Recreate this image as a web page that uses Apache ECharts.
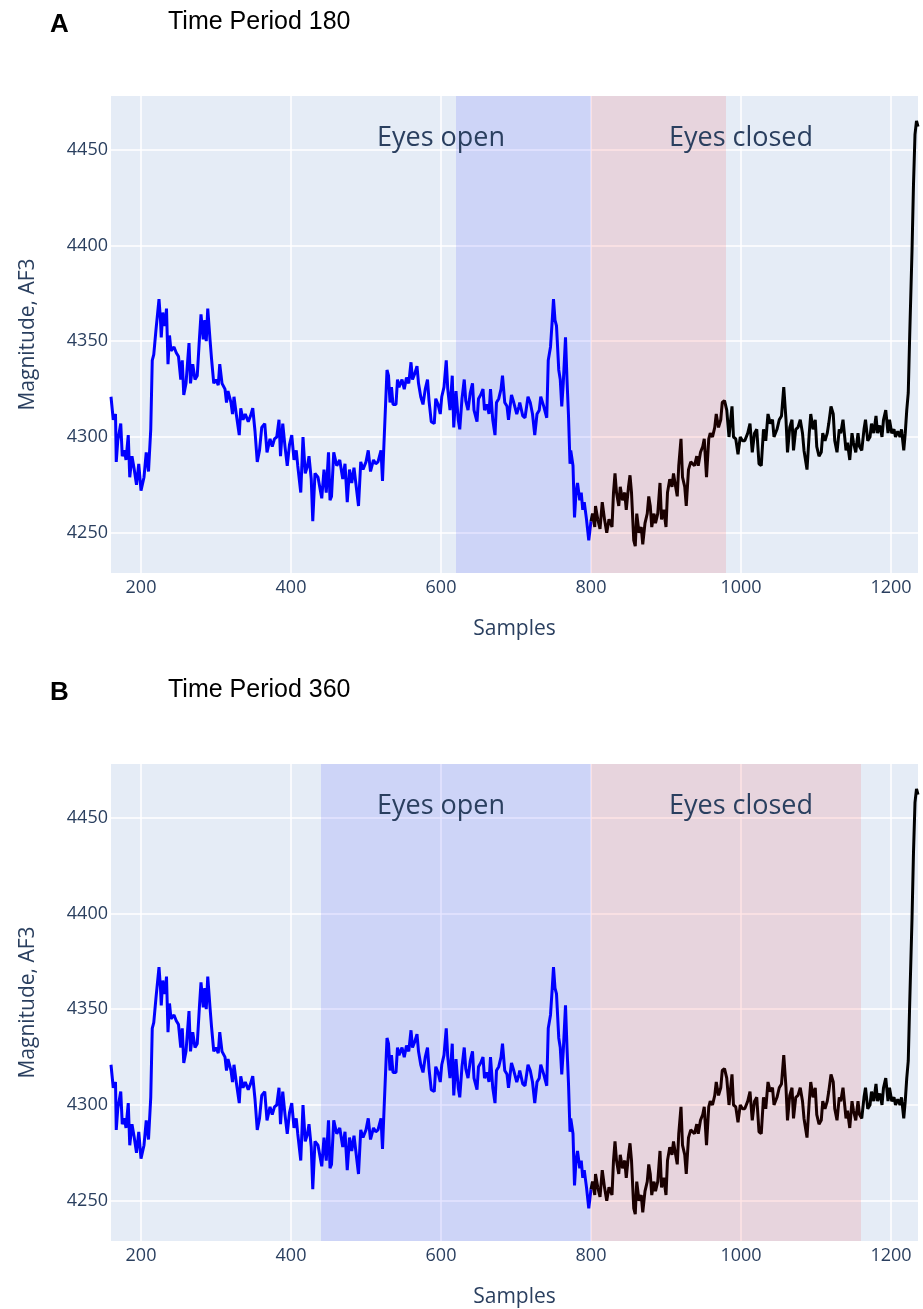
<!DOCTYPE html>
<html>
<head>
<meta charset="utf-8">
<script src="https://cdn.jsdelivr.net/npm/echarts@6/dist/echarts.min.js"></script>
<style>
  html, body { margin: 0; padding: 0; background: #ffffff; }
  #chart { width: 923px; height: 1309px; }
</style>
</head>
<body>
<div id="chart"></div>
<script>
// ---------- DATA ----------
const samples = [
  160,163,166,167,169,173,175,178,180,183,185,188,191,194,197,200,204,207,210,213,
  215,217,220,224,226,227,229,232,234,236,238,240,244,247,250,253,255,257,260,264,
  266,269,272,275,278,280,283,285,287,289,292,294,297,300,303,305,308,312,314,316,
  320,322,324,327,331,333,336,339,343,346,349,352,355,358,361,365,368,372,375,378,
  381,384,386,389,392,395,398,401,404,407,409,413,416,419,422,424,427,429,432,436,
  438,441,444,447,450,452,454,457,461,465,469,472,475,478,481,484,487,490,493,496,
  500,503,506,510,513,516,520,522,524,526,528,530,532,534,536,540,542,544,548,551,
  554,557,560,562,565,568,570,573,576,579,582,584,587,591,593,596,599,601,604,607,
  609,612,615,617,620,623,625,628,631,633,636,639,642,644,648,650,653,656,658,661,
  664,666,669,672,674,677,680,682,685,688,690,694,697,701,704,705,709,712,716,719,
  722,725,728,731,733,737,739,741,743,746,748,750,752,754,757,759,761,763,766,768,
  770,772,773,776,778,780,782,785,787,789,791,794,797,800,802,805,806,809,812,815,
  818,821,824,828,830,832,834,837,839,842,845,847,850,852,854,857,859,861,864,867,
  869,872,875,877,879,881,884,886,889,892,894,897,900,902,905,908,910,912,915,917,
  920,922,925,927,930,933,935,938,941,943,946,949,951,954,957,959,962,965,967,970,
  973,975,978,981,984,988,990,993,996,999,1002,1005,1009,1012,1015,1018,1021,1024,1027,1030,
  1033,1036,1039,1042,1044,1048,1051,1054,1057,1060,1062,1065,1068,1070,1073,1076,1079,1082,1084,1088,
  1091,1093,1096,1099,1101,1104,1107,1109,1112,1115,1117,1120,1123,1125,1128,1131,1133,1136,1140,1142,
  1145,1148,1150,1153,1156,1158,1161,1164,1166,1169,1172,1174,1177,1180,1182,1185,1188,1190,1193,1196,
  1198,1201,1204,1206,1209,1212,1214,1217,1219,1221,1223,1225,1228,1230,1232,1234,1236
];
const magnitude = [
  4321,4309,4312,4287,4298,4307,4290,4293,4288,4301,4279,4290,4283,4275,4286,4272,4279,4292,4282,4304,
  4340,4343,4356,4372,4361,4352,4365,4358,4367,4338,4353,4345,4347,4344,4342,4330,4340,4322,4328,4349,
  4328,4338,4330,4332,4352,4364,4351,4361,4350,4367,4351,4341,4328,4330,4327,4338,4328,4325,4318,4324,
  4318,4312,4321,4312,4301,4315,4309,4312,4308,4311,4315,4303,4287,4293,4305,4307,4292,4299,4295,4299,
  4300,4309,4290,4307,4295,4285,4296,4301,4288,4293,4285,4271,4300,4281,4285,4290,4278,4256,4281,4279,
  4278,4268,4283,4271,4292,4267,4269,4292,4285,4288,4278,4286,4266,4283,4276,4284,4274,4264,4287,4283,
  4287,4293,4282,4288,4286,4287,4293,4277,4297,4316,4335,4332,4318,4326,4317,4317,4330,4326,4330,4325,
  4331,4328,4339,4330,4333,4337,4328,4321,4317,4325,4330,4319,4308,4307,4320,4317,4312,4321,4326,4340,
  4325,4314,4332,4305,4324,4309,4304,4320,4330,4319,4314,4323,4328,4314,4308,4320,4322,4325,4314,4317,
  4312,4325,4309,4301,4318,4320,4325,4332,4318,4316,4309,4322,4318,4312,4316,4318,4311,4310,4321,4318,
  4312,4301,4312,4314,4321,4316,4317,4310,4340,4347,4359,4372,4361,4358,4335,4330,4316,4328,4352,4330,
  4311,4286,4293,4285,4258,4271,4276,4267,4271,4262,4266,4257,4246,4256,4260,4253,4264,4257,4252,4266,
  4257,4250,4257,4253,4271,4281,4271,4264,4274,4267,4271,4262,4274,4280,4271,4246,4243,4260,4250,4253,
  4244,4255,4260,4269,4264,4253,4260,4255,4260,4276,4257,4262,4253,4271,4278,4274,4281,4276,4269,4285,
  4299,4279,4274,4264,4283,4287,4286,4285,4290,4285,4292,4295,4299,4279,4299,4302,4300,4305,4312,4305,
  4309,4318,4319,4314,4300,4316,4300,4299,4291,4300,4298,4298,4302,4307,4292,4302,4304,4286,4285,4304,
  4298,4312,4307,4309,4300,4304,4309,4311,4326,4309,4292,4305,4309,4293,4304,4305,4309,4302,4293,4283,
  4302,4312,4304,4309,4295,4290,4292,4302,4298,4302,4307,4316,4312,4298,4292,4304,4302,4309,4293,4297,
  4288,4302,4297,4292,4302,4295,4293,4304,4309,4298,4300,4307,4302,4311,4302,4306,4300,4309,4314,4302,
  4309,4302,4304,4300,4303,4300,4304,4293,4302,4314,4323,4354,4397,4432,4458,4465,4462
];
const eyesSplit = 800;                 // sample where eyes close
const timePeriods = [180, 360];        // panel A, panel B
const panelLetters = ['A', 'B'];
const regionLabels = ['Eyes open', 'Eyes closed'];

// ---------- BUILD ----------
const points = samples.map((s, i) => [s, magnitude[i]]);
const openPart = points.filter(p => p[0] <= eyesSplit);
const closedPart = points.filter(p => p[0] >= eyesSplit);

const FONT = "'Open Sans', 'Noto Sans', sans-serif";
const TXT = '#2a3f5f';
const panelTop = [96, 764];
const plotH = 477;

const grids = [], xAxes = [], yAxes = [], series = [], titles = [];

panelTop.forEach((top, k) => {
  grids.push({ left: 111, top: top, width: 807, height: plotH, show: true,
               backgroundColor: '#E5ECF6', borderWidth: 0, containLabel: false });
  xAxes.push({
    gridIndex: k, type: 'value', min: 160, max: 1236,
    minInterval: 200, maxInterval: 200,
    name: 'Samples', nameLocation: 'middle', nameGap: 46,
    nameTextStyle: { fontFamily: FONT, fontSize: 21, color: TXT },
    axisLine: { show: false }, axisTick: { show: false },
    axisLabel: { fontFamily: FONT, fontSize: 18, color: TXT, margin: 6,
                 showMinLabel: false, showMaxLabel: false,
                 formatter: v => (v % 200 === 0 ? String(v) : '') },
    splitLine: { show: true, showMinLine: false, showMaxLine: false,
                 lineStyle: { color: '#ffffff', width: 1.5 } }
  });
  yAxes.push({
    gridIndex: k, type: 'value', min: 4229, max: 4478,
    minInterval: 50, maxInterval: 50,
    name: 'Magnitude, AF3', nameLocation: 'middle', nameGap: 72,
    nameTextStyle: { fontFamily: FONT, fontSize: 21, color: TXT },
    axisLine: { show: false }, axisTick: { show: false },
    axisLabel: { fontFamily: FONT, fontSize: 18, color: TXT, margin: 3,
                 showMinLabel: false, showMaxLabel: false,
                 formatter: v => (v % 50 === 0 ? String(v) : '') },
    splitLine: { show: true, showMinLine: false, showMaxLine: false,
                 lineStyle: { color: '#ffffff', width: 1.5 } }
  });

  const period = timePeriods[k];
  series.push({
    type: 'line', xAxisIndex: k, yAxisIndex: k, data: openPart,
    showSymbol: false, symbol: 'none', z: 2,
    lineStyle: { color: '#0000ff', width: 3 }, silent: true
  });
  series.push({
    type: 'line', xAxisIndex: k, yAxisIndex: k, data: closedPart,
    showSymbol: false, symbol: 'none', z: 2,
    lineStyle: { color: '#000000', width: 3 }, silent: true
  });
  // translucent shaded periods drawn above the trace
  series.push({
    type: 'line', xAxisIndex: k, yAxisIndex: k, data: [[eyesSplit, null]],
    showSymbol: false, symbol: 'none', z: 10, silent: true,
    markArea: {
      silent: true, z: 10,
      data: [
        [{ xAxis: eyesSplit - period, itemStyle: { color: 'rgba(0,0,255,0.1)' } }, { xAxis: eyesSplit }],
        [{ xAxis: eyesSplit, itemStyle: { color: 'rgba(255,0,0,0.1)' } }, { xAxis: eyesSplit + period }]
      ]
    }
  });
  // region annotations
  series.push({
    type: 'scatter', xAxisIndex: k, yAxisIndex: k, z: 20, silent: true,
    symbolSize: 0, itemStyle: { opacity: 1 },
    data: [[600, 4456], [1000, 4456]],
    label: { show: true, position: 'inside', opacity: 1,
             formatter: p => regionLabels[p.dataIndex],
             fontFamily: FONT, fontSize: 27, color: TXT }
  });

  titles.push({ text: panelLetters[k], left: 50, top: 12 + 668 * k, padding: 0,
                textStyle: { fontFamily: "'Liberation Sans', Arial, sans-serif", fontWeight: 'bold', fontSize: 26, color: '#000' } });
  titles.push({ text: 'Time Period ' + period, left: 168, top: 10 + 668 * k, padding: 0,
                textStyle: { fontFamily: "'Liberation Sans', Arial, sans-serif", fontWeight: 'normal', fontSize: 25, color: '#000' } });
});

const chart = echarts.init(document.getElementById('chart'), null, { renderer: 'canvas' });
chart.setOption({
  backgroundColor: '#ffffff',
  animation: false,
  title: titles,
  grid: grids,
  xAxis: xAxes,
  yAxis: yAxes,
  series: series
});
</script>
</body>
</html>
